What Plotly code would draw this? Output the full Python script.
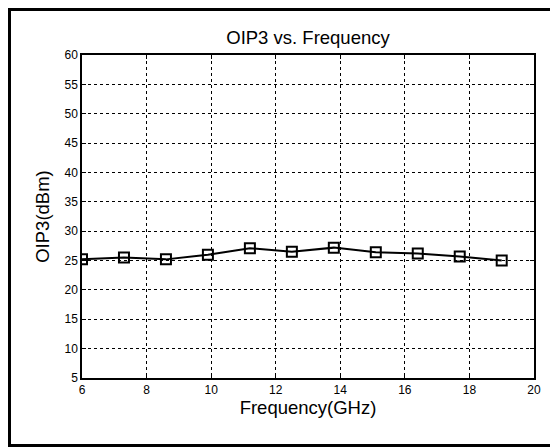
import plotly.graph_objects as go

freq_ghz = [6.0, 7.3, 8.6, 9.9, 11.2, 12.5, 13.8, 15.1, 16.4, 17.7, 19.0]
oip3_dbm = [25.2, 25.5, 25.2, 26.0, 27.1, 26.5, 27.2, 26.4, 26.2, 25.7, 25.0]
x_ticks = [6, 8, 10, 12, 14, 16, 18, 20]
y_ticks = [5, 10, 15, 20, 25, 30, 35, 40, 45, 50, 55, 60]

# page has an 8px body margin, so the figure is sized to fit the window
W, H = 550, 439
L, R, T, B = 74, 24, 47, 69
pw, ph = W - L - R, H - T - B

font_family = "Liberation Sans, Arial, sans-serif"

fig = go.Figure()
fig.add_trace(go.Scatter(
    x=freq_ghz, y=oip3_dbm, mode="lines+markers",
    line=dict(color="black", width=2),
    marker=dict(symbol="square-open", size=10, color="black", line=dict(width=2, color="black")),
    showlegend=False,
))

axis_common = dict(
    showgrid=True, gridcolor="black", griddash="dot", gridwidth=1,
    showline=True, linecolor="black", linewidth=1.5, mirror="ticks",
    ticks="inside", ticklen=4, tickcolor="black", tickwidth=1,
    zeroline=False, tickfont=dict(family=font_family, size=12, color="black"),
)

fig.update_xaxes(range=[6, 20], tickvals=x_ticks,
                 title=dict(text="Frequency(GHz)", font=dict(family=font_family, size=18.5, color="black"), standoff=3),
                 **axis_common)
fig.update_yaxes(range=[5, 60], tickvals=y_ticks,
                 title=dict(text="OIP3(dBm)", font=dict(family=font_family, size=18.5, color="black"), standoff=10),
                 **axis_common)

px = lambda p: (p - L) / pw
py = lambda p: (H - B - p) / ph

fig.add_shape(type="rect", xref="paper", yref="paper",
              x0=px(1.5), x1=px(W - 1.5), y0=py(H - 1.5), y1=py(1.5),
              line=dict(color="black", width=3), fillcolor="rgba(0,0,0,0)", layer="above")

fig.update_layout(
    width=W, height=H,
    margin=dict(l=L, r=R, t=T, b=B),
    paper_bgcolor="white", plot_bgcolor="white",
    title=dict(text="OIP3 vs. Frequency", x=(L + pw / 2) / W, xanchor="center",
               y=1 - 30 / H, yanchor="middle", yref="container",
               font=dict(family=font_family, size=18.5, color="black")),
    font=dict(family=font_family, color="black"),
)

fig.write_html("out.html")
